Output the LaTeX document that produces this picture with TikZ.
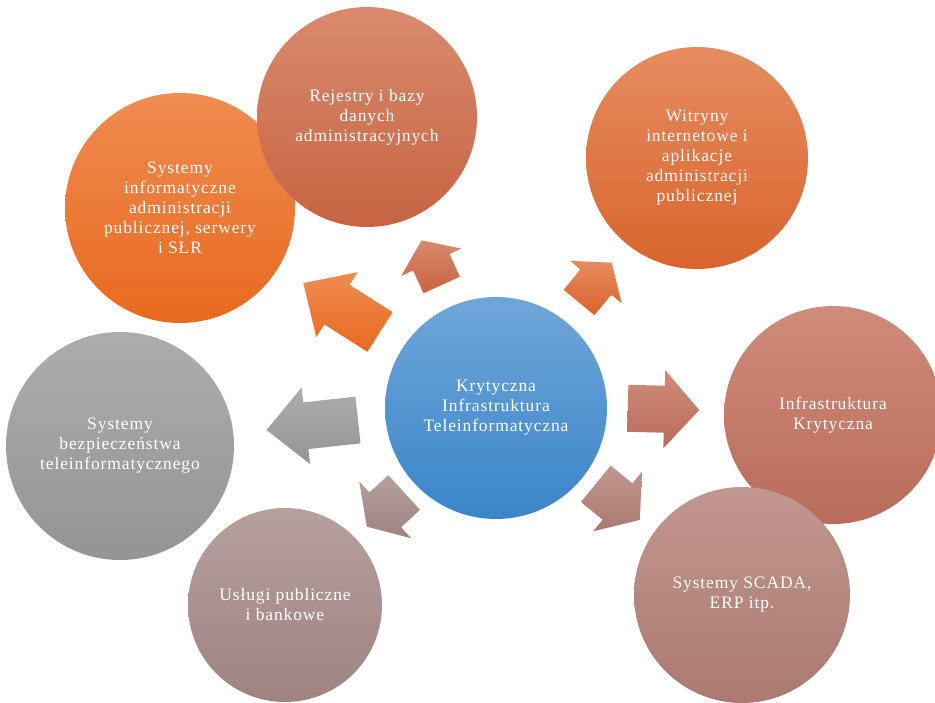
\documentclass[tikz,border=0pt]{standalone}
\usepackage{fontspec}
\setmainfont{Liberation Serif}[LetterSpace=5]
\usetikzlibrary{calc}

\definecolor{blueT}{HTML}{6FA6D9}\definecolor{blueB}{HTML}{3A85C8}
\definecolor{orT}{HTML}{F08C50}\definecolor{orB}{HTML}{E8691F}
\definecolor{rejT}{HTML}{D98A6E}\definecolor{rejB}{HTML}{C76442}
\definecolor{witT}{HTML}{E68C60}\definecolor{witB}{HTML}{D9642C}
\definecolor{infT}{HTML}{D08B7A}\definecolor{infB}{HTML}{B96C5B}
\definecolor{scaT}{HTML}{C2978F}\definecolor{scaB}{HTML}{AA7A71}
\definecolor{uslT}{HTML}{B6A09E}\definecolor{uslB}{HTML}{9E8381}
\definecolor{grT}{HTML}{ADADAD}\definecolor{grB}{HTML}{949494}

\tikzset{
  bubble/.style={circle, inner sep=0pt, minimum size=#1, text=white,
    align=center, font=\fontsize{17.5}{20}\selectfont},
}

% #1 start coordinate, #2 angle, #3 length, #4 head length,
% #5 shaft width, #6 head width, #7 top colour, #8 bottom colour
\newcommand\blockarrow[8]{%
  \path[top color=#7, bottom color=#8]
    ($(#1)+(#2+90:#5/2)$)
 -- ($(#1)+(#2:#3-#4)+(#2+90:#5/2)$)
 -- ($(#1)+(#2:#3-#4)+(#2+90:#6/2)$)
 -- ($(#1)+(#2:#3)$)
 -- ($(#1)+(#2:#3-#4)+(#2-90:#6/2)$)
 -- ($(#1)+(#2:#3-#4)+(#2-90:#5/2)$)
 -- ($(#1)+(#2-90:#5/2)$) -- cycle;}

\begin{document}
\begin{tikzpicture}[x=1pt,y=-1pt]
\clip (0,0) rectangle (935,703);
\fill[white] (0,0) rectangle (935,703);

% circles
\node[bubble=230pt, top color=orT, bottom color=orB] (sys) at (180,208)
  {Systemy\\informatyczne\\administracji\\publicznej, serwery\\i SŁR};
\node[bubble=220pt, top color=rejT, bottom color=rejB] (rej) at (367,117)
  {Rejestry i bazy\\danych\\administracyjnych};
\node[bubble=222pt, top color=witT, bottom color=witB] (wit) at (697,158)
  {Witryny\\internetowe i\\aplikacje\\administracji\\publicznej};
\node[bubble=218pt, top color=infT, bottom color=infB] (inf) at (833,415)
  {Infrastruktura\\Krytyczna};
\node[bubble=216pt, top color=scaT, bottom color=scaB] (sca) at (742,595)
  {Systemy SCADA,\\ERP itp.};
\node[bubble=228pt, top color=grT, bottom color=grB] (bez) at (120,446)
  {Systemy\\bezpieczeństwa\\teleinformatycznego};
\node[bubble=194pt, top color=uslT, bottom color=uslB] (usl) at (285,605)
  {Usługi publiczne\\i bankowe};
\node[bubble=222pt, top color=blueT, bottom color=blueB] (kit) at (496,408)
  {Krytyczna\\Infrastruktura\\Teleinformatyczna};

% arrow start points
\coordinate (a1) at (380,332);
\coordinate (a2) at (441.7,285);
\coordinate (a3) at (579,302.5);
\coordinate (a4) at (358,420);
\coordinate (a5) at (627.8,408.3);
\coordinate (a6) at (404.2,492.5);
\coordinate (a7) at (595.8,483.8);

\blockarrow{a1}{-147.5}{91}{40}{47}{77}{orT}{orB}
\blockarrow{a2}{-114.4}{49}{24}{40}{66}{rejT}{rejB}
\blockarrow{a3}{-50.6}{51.5}{25}{40}{67}{witT}{witB}
\blockarrow{a4}{173.75}{92}{39.5}{47}{77}{grT}{grB}
\blockarrow{a5}{1.4}{71.5}{35}{47}{78}{infT}{infB}
\blockarrow{a6}{137.6}{50.7}{25}{47}{77}{uslT}{uslB}
\blockarrow{a7}{39.3}{57}{29}{47}{77}{scaT}{scaB}
\end{tikzpicture}
\end{document}
